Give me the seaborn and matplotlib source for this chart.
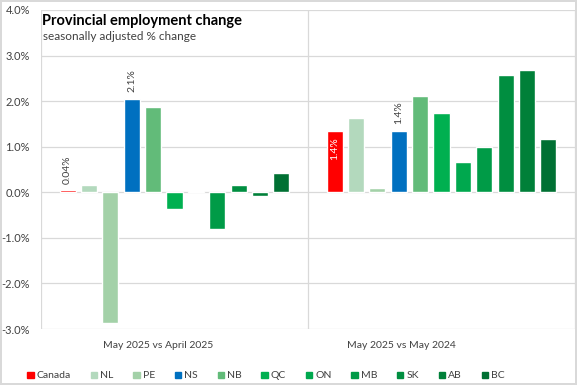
import pandas as pd
import matplotlib
matplotlib.use("Agg")
import matplotlib.pyplot as plt
import seaborn as sns

# ==============================
# Data
# ==============================

REGIONS = ["Canada", "NL", "PE", "NS", "NB", "QC", "ON", "MB", "SK", "AB", "BC"]
PERIODS = ["May 2025 vs April 2025", "May 2025 vs May 2024"]

MONTHLY_CHANGE = [0.04, 0.15, -2.86, 2.05, 1.88, -0.36, 0.03, -0.80, 0.15, -0.08, 0.42]
YEARLY_CHANGE = [1.35, 1.62, 0.10, 1.35, 2.11, 1.75, 0.66, 0.99, 2.58, 2.69, 1.18]

COLORS = ["#FF0000", "#B3D9BD", "#A3D1A8", "#0070C0", "#62BB79", "#00B050",
          "#00A84E", "#009B47", "#008E40", "#008039", "#007033"]

OUTPUT_PATH = "out.png"
GRID_COLOR = "#D9D9D9"
TEXT_COLOR = "#404040"


def build_frame():
    rows = []
    for period, values in zip(PERIODS, [MONTHLY_CHANGE, YEARLY_CHANGE]):
        for region, value in zip(REGIONS, values):
            rows.append({"period": period, "region": region, "value": value})
    return pd.DataFrame(rows)


def main():
    df = build_frame()

    sns.set_style("white")
    plt.rcParams["font.family"] = ["Lato", "DejaVu Sans"]

    fig = plt.figure(figsize=(5.77, 3.85), dpi=100)
    fig.patch.set_edgecolor(GRID_COLOR)
    fig.patch.set_linewidth(1.5)
    ax = fig.add_axes([41 / 577, 1 - 329 / 385, 534 / 577, 319 / 385])

    sns.barplot(
        data=df,
        x="period",
        y="value",
        hue="region",
        hue_order=REGIONS,
        palette=COLORS,
        width=0.88,
        gap=0.25,
        saturation=1,
        ax=ax,
        zorder=3,
    )

    ax.set_xlim(-0.5, 1.5)
    ax.set_ylim(-3, 4)
    ax.set_yticks(range(-3, 5))
    ax.yaxis.set_major_formatter(lambda v, _: f"{v:.1f}%")
    ax.grid(axis="y", color=GRID_COLOR, linewidth=0.9, zorder=0)
    for x in [-0.5, 0.5, 1.5]:
        ax.axvline(x, color=GRID_COLOR, linewidth=0.9, zorder=1)
    for spine in ax.spines.values():
        spine.set_visible(False)

    ax.set_xticks([-0.06, 0.85], PERIODS)
    ax.tick_params(axis="both", length=0, labelcolor=TEXT_COLOR)
    ax.tick_params(axis="x", pad=9, labelsize=7.5)
    ax.tick_params(axis="y", pad=8, labelsize=8)
    ax.set_xlabel("")
    ax.set_ylabel("")

    # Data labels
    canada = ax.containers[0]
    ns = ax.containers[3]
    label_kw = dict(rotation=90, ha="center", fontsize=7.5,
                    textcoords="offset points", zorder=4)
    for bar, text in [(canada[0], "0.04%"), (ns[0], "2.1%"), (ns[1], "1.4%")]:
        ax.annotate(text, (bar.get_x() + bar.get_width() / 2, bar.get_height()),
                    xytext=(0, 5), va="bottom", color=TEXT_COLOR, **label_kw)
    bar = canada[1]
    ax.annotate("1.4%", (bar.get_x() + bar.get_width() / 2, bar.get_height()),
                xytext=(0, -5), va="top", color="white", **label_kw)

    # Titles
    fig.text(42 / 577, 1 - 25 / 385, "Provincial employment change",
             fontsize=10.5, fontweight="bold", color="black")
    fig.text(43 / 577, 1 - 40 / 385, "seasonally adjusted % change",
             fontsize=8.5, color=TEXT_COLOR)

    # Legend
    ax.legend_.remove()
    handles = [plt.Rectangle((0, 0), 1, 1, color=c) for c in COLORS]
    fig.legend(
        handles,
        REGIONS,
        loc="center",
        bbox_to_anchor=(266 / 577, 1 - 376 / 385),
        ncol=len(REGIONS),
        frameon=False,
        fontsize=7.5,
        handlelength=0.6,
        handleheight=0.6,
        handletextpad=0.3,
        columnspacing=1.9,
        labelcolor=TEXT_COLOR,
    )

    fig.savefig(OUTPUT_PATH, dpi=100, edgecolor=fig.get_edgecolor())
    plt.close(fig)


if __name__ == "__main__":
    main()
